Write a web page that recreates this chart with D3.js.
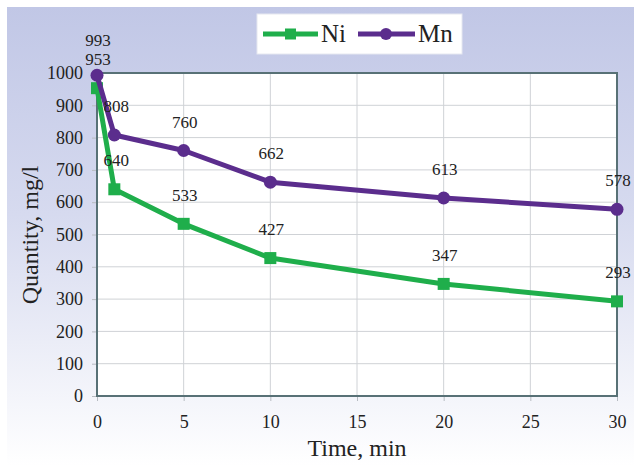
<!DOCTYPE html>
<html><head><meta charset="utf-8">
<script src="https://cdn.jsdelivr.net/npm/d3@7"></script>
<style>body{margin:0;background:#fff}svg{display:block}text{font-family:'Liberation Serif','Times New Roman',serif}</style>
</head><body>
<svg id="c" width="634" height="466"></svg>
<script>
const times = [0, 1, 5, 10, 20, 30];
const niValues = [953, 640, 533, 427, 347, 293];
const mnValues = [993, 808, 760, 662, 613, 578];
const xTicks = [0, 5, 10, 15, 20, 25, 30];
const yTicks = [0, 100, 200, 300, 400, 500, 600, 700, 800, 900, 1000];
const seriesNames = ["Ni", "Mn"];

const svg = d3.select("#c");
const font = "'Liberation Serif','Times New Roman',serif";
const green = "#1fae4b", purple = "#5b2d8d";

const defs = svg.append("defs");
const grad = defs.append("linearGradient").attr("id", "bg").attr("x1", 0).attr("y1", 0).attr("x2", 0).attr("y2", 1);
grad.append("stop").attr("offset", "0%").attr("stop-color", "#c1c7e6");
grad.append("stop").attr("offset", "45%").attr("stop-color", "#d6daef");
grad.append("stop").attr("offset", "100%").attr("stop-color", "#ffffff");
svg.append("rect").attr("x", 7).attr("y", 7).attr("width", 627).attr("height", 459).attr("fill", "url(#bg)");

const x = d3.scaleLinear().domain([0, 30]).range([97, 617]);
const y = d3.scaleLinear().domain([0, 1000]).range([396, 73]);

svg.append("rect").attr("x", x(0)).attr("y", y(1000)).attr("width", x(30) - x(0)).attr("height", y(0) - y(1000)).attr("fill", "#fff");

// gridlines
svg.append("g").selectAll("line").data(yTicks).join("line")
  .attr("x1", x(0)).attr("x2", x(30)).attr("y1", d => y(d)).attr("y2", d => y(d))
  .attr("stroke", "#cfd2d6").attr("stroke-width", 1);
svg.append("g").selectAll("line").data(xTicks).join("line")
  .attr("y1", y(0)).attr("y2", y(1000)).attr("x1", d => x(d)).attr("x2", d => x(d))
  .attr("stroke", "#cfd2d6").attr("stroke-width", 1);

// axes
const yAxis = d3.axisLeft(y).tickValues(yTicks).tickSize(5).tickPadding(9).tickFormat(d3.format("d"));
const gy = svg.append("g").attr("transform", `translate(${x(0)},0)`).call(yAxis);
const xAxis = d3.axisBottom(x).tickValues(xTicks).tickSize(5).tickPadding(14).tickFormat(d3.format("d"));
const gx = svg.append("g").attr("transform", `translate(0,${y(0)})`).call(xAxis);
[gx, gy].forEach(g => {
  g.attr("font-family", font).attr("font-size", 18);
  g.select(".domain").remove();
  g.selectAll(".tick line").attr("stroke", "#b8bcc2");
  g.selectAll("text").style("font-family", font).attr("font-size", 18).attr("fill", "#222");
});

// border
svg.append("rect").attr("x", x(0)).attr("y", y(1000)).attr("width", x(30) - x(0)).attr("height", y(0) - y(1000))
  .attr("fill", "none").attr("stroke", "#587176").attr("stroke-width", 2);

// titles
svg.append("text").attr("x", 357).attr("y", 456).attr("text-anchor", "middle")
  .attr("font-size", 24).attr("fill", "#222").text("Time, min");
svg.append("text").attr("transform", "translate(38,235) rotate(-90)").attr("text-anchor", "middle")
  .attr("font-size", 24).attr("fill", "#222").text("Quantity, mg/l");

// lines
const line = d3.line().x((d, i) => x(times[i])).y(d => y(d));
const series = [
  {name: seriesNames[0], values: niValues, color: green, shape: "square", first: 0},
  {name: seriesNames[1], values: mnValues, color: purple, shape: "circle", first: -6}
];
series.forEach(s => {
  svg.append("path").datum(s.values).attr("d", line).attr("fill", "none")
    .attr("stroke", s.color).attr("stroke-width", 5).attr("stroke-linejoin", "round");
  const g = svg.append("g");
  if (s.shape === "square") {
    g.selectAll("rect").data(s.values).join("rect")
      .attr("x", (d, i) => x(times[i]) - 6).attr("y", d => y(d) - 6).attr("width", 12).attr("height", 12).attr("fill", s.color);
  } else {
    g.selectAll("circle").data(s.values).join("circle")
      .attr("cx", (d, i) => x(times[i])).attr("cy", d => y(d)).attr("r", 6.5).attr("fill", s.color);
  }
  svg.append("g").selectAll("text").data(s.values).join("text")
    .attr("x", (d, i) => x(times[i]) + (i === 1 ? 2 : 1))
    .attr("y", (d, i) => y(d) - 23 + (i === 0 ? s.first : 0))
    .attr("text-anchor", "middle").attr("font-size", 17).attr("fill", "#222")
    .text(d => d);
});

// legend
const lg = svg.append("g");
lg.append("rect").attr("x", 257).attr("y", 14).attr("width", 205).attr("height", 40).attr("fill", "#fff").attr("stroke", "#e6e8f0");
const ly = 34;
lg.append("line").attr("x1", 263).attr("x2", 318).attr("y1", ly).attr("y2", ly).attr("stroke", green).attr("stroke-width", 5);
lg.append("rect").attr("x", 285).attr("y", ly - 5.5).attr("width", 11).attr("height", 11).attr("fill", green);
lg.append("text").attr("x", 321).attr("y", 42).attr("font-size", 25).attr("fill", "#222").text(seriesNames[0]);
lg.append("line").attr("x1", 358).attr("x2", 415).attr("y1", ly).attr("y2", ly).attr("stroke", purple).attr("stroke-width", 5);
lg.append("circle").attr("cx", 386).attr("cy", ly).attr("r", 6).attr("fill", purple);
lg.append("text").attr("x", 418).attr("y", 42).attr("font-size", 25).attr("fill", "#222").text(seriesNames[1]);
</script>
</body></html>
